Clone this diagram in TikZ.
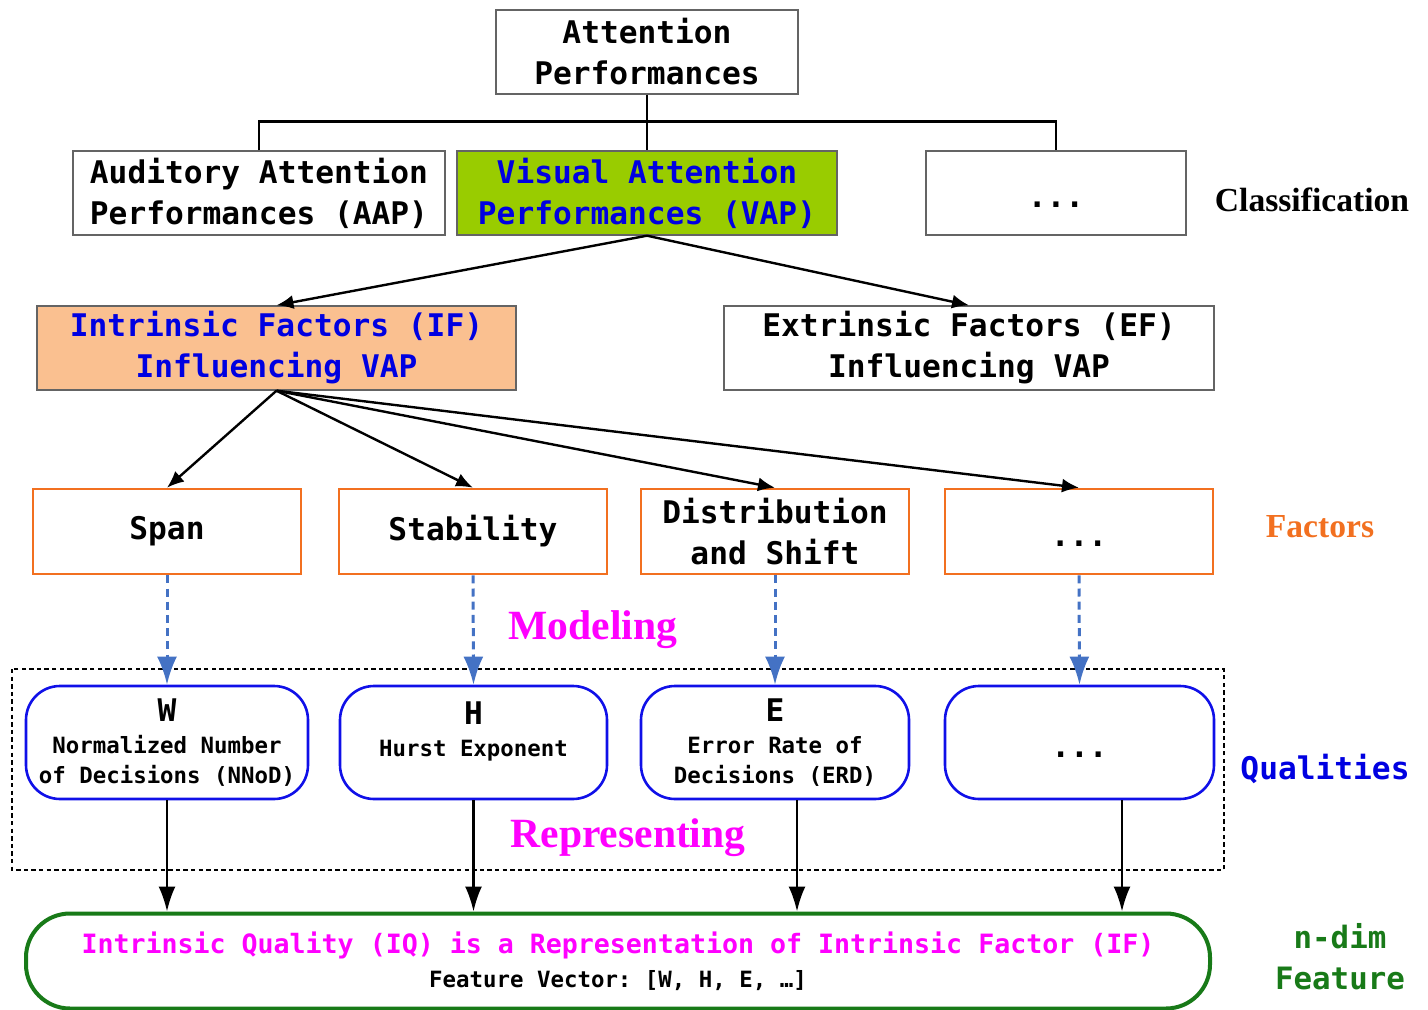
\documentclass[tikz,border=0pt]{standalone}
\usepackage{fontspec}
\setmainfont{Liberation Serif}
\setmonofont{DejaVu Sans Mono}
\usepackage{tikz}
\usetikzlibrary{calc, arrows.meta, shapes}
\tikzset{>=latex}
\definecolor{vapgreen}{RGB}{153, 204, 0}
\definecolor{ifpeach}{RGB}{250, 192, 144}
\definecolor{facorange}{RGB}{242, 112, 32}
\definecolor{arrblue}{RGB}{68, 114, 196}
\definecolor{qblue}{RGB}{16, 16, 232}
\definecolor{txtblue}{RGB}{0, 0, 225}
\definecolor{iqgreen}{RGB}{24, 122, 24}
\definecolor{boxgray}{RGB}{100, 100, 100}
\definecolor{stepmagenta}{RGB}{255, 0, 255}
\newcommand{\bigmono}{\fontsize{15.6}{20.5}\selectfont\ttfamily\bfseries}
\newcommand{\smallmono}{\fontsize{11.2}{15}\selectfont\ttfamily\bfseries}
\tikzset{
  classbox/.style = {draw = boxgray, line width = 0.7pt, minimum height = 42pt, inner sep = 0pt, align = center, font = \bigmono},
  facbox/.style = {draw = facorange, line width = 1.3pt, minimum width = 134pt, minimum height = 42.5pt, inner sep = 0pt, align = center, font = \bigmono},
  qualbox/.style = {draw = qblue, line width = 1.3pt, rounded corners = 17pt, minimum height = 56.5pt, inner sep = 0pt, align = center, font = \smallmono},
  dotsbox/.style = {text height = 15pt, text depth = 0pt},
  sidelabel/.style = {font = \fontsize{16.8}{20}\selectfont\bfseries},
  steplabel/.style = {font = \fontsize{20.8}{24}\selectfont\bfseries, text = stepmagenta},
  treeline/.style = {line width = 1.2pt},
  blackarr/.style = {line width = 1.2pt, -{Latex[length = 8.5pt, width = 7pt]}},
  downarr/.style = {line width = 1.1pt, -{Latex[length = 12.5pt, width = 8.5pt]}},
  modelarr/.style = {arrblue, line width = 1.5pt, dash pattern = on 4pt off 2.6pt, -{Latex[length = 14pt, width = 10pt]}}
}

\begin{document}
\begin{tikzpicture}[x = 0.5pt, y = -0.5pt]
\useasboundingbox (0, 0) rectangle (1428, 1010);

\node[classbox, minimum width = 151pt] (ap) at (647, 52) {Attention\\Performances};
\node[classbox, minimum width = 186pt] (aap) at (259, 193) {Auditory Attention\\Performances (AAP)};
\node[classbox, minimum width = 190pt, fill = vapgreen, text = txtblue] (vap) at (647, 193) {Visual Attention\\Performances (VAP)};
\node[classbox, dotsbox, minimum width = 130pt] (more) at (1056, 193) {...};
\node[sidelabel] (lclass) at (1312, 200) {Classification};

\draw[treeline] (ap.south) -- (vap.north);
\draw[treeline] (aap.north) |- ($(ap.south)+(0, 27)$) -| (more.north);

\node[classbox, minimum width = 239.5pt, fill = ifpeach, text = txtblue] (if) at (276.5, 348) {Intrinsic Factors (IF)\\Influencing VAP};
\node[classbox, minimum width = 245pt] (ef) at (969, 348) {Extrinsic Factors (EF)\\Influencing VAP};

\draw[blackarr] (vap.south) -- (if.north);
\draw[blackarr] (vap.south) -- (ef.north);

\node[facbox] (fspan) at (167, 531.5) {Span};
\node[facbox] (fstab) at (473, 531.5) {Stability};
\node[facbox] (fdist) at (775, 531.5) {Distribution\\and Shift};
\node[facbox, dotsbox] (fmore) at (1079, 531.5) {...};
\node[sidelabel, text = facorange] (lfac) at (1320, 527) {Factors};

\foreach \f in {fspan, fstab, fdist, fmore}
  \draw[blackarr] (if.south) -- (\f.north);

\node[steplabel] (lmodel) at (593, 630) {Modeling};

\draw[line width = 1.1pt, dash pattern = on 2.2pt off 1.6pt] (12, 669) rectangle (1224, 870);

\node[qualbox, minimum width = 141pt] (qw) at (167, 742.5) {{\bigmono W}\\[1pt]Normalized Number\\of Decisions (NNoD)};
\node[qualbox, minimum width = 133.5pt] (qh) at (473.5, 742.5) {{\bigmono H}\\[1pt]Hurst Exponent\\[-6pt]\strut};
\node[qualbox, minimum width = 134pt] (qe) at (775, 742.5) {{\bigmono E}\\[1pt]Error Rate of\\Decisions (ERD)};
\node[qualbox, dotsbox, minimum width = 134.5pt, font = \bigmono] (qmore) at (1079.5, 742.5) {...};
\node[font = \fontsize{15.6}{20}\selectfont\ttfamily\bfseries, text = txtblue] (lqual) at (1325, 769) {Qualities};

\foreach \f/\q in {fspan/qw, fstab/qh, fdist/qe, fmore/qmore}
  \draw[modelarr] (\f.south) -- (\q.north);

\node[steplabel] (lrep) at (628, 838) {Representing};

\node[draw = iqgreen, line width = 2pt, rounded corners = 22pt, minimum width = 592pt, minimum height = 47.5pt, inner sep = 0pt, align = center, font = \fontsize{13.3}{17}\selectfont\ttfamily\bfseries] (iq) at (618, 961)
  {{\color{stepmagenta}Intrinsic Quality (IQ) is a Representation of Intrinsic Factor (IF)}\\
   {\smallmono Feature Vector: [W, H, E, …]}};
\node[font = \fontsize{15.4}{20.5}\selectfont\ttfamily\bfseries, text = iqgreen, align = center] (lfeat) at (1340, 957) {n-dim\\Feature};

\coordinate (wout) at (qw.south);
\coordinate (hout) at (qh.south);
\coordinate (eout) at ($(qe.south)+(22, 0)$);
\coordinate (mout) at ($(qmore.south)+(42.5, 0)$);
\foreach \c in {wout, hout, eout, mout}
  \draw[downarr] (\c) -- (\c |- iq.north);

\end{tikzpicture}
\end{document}
